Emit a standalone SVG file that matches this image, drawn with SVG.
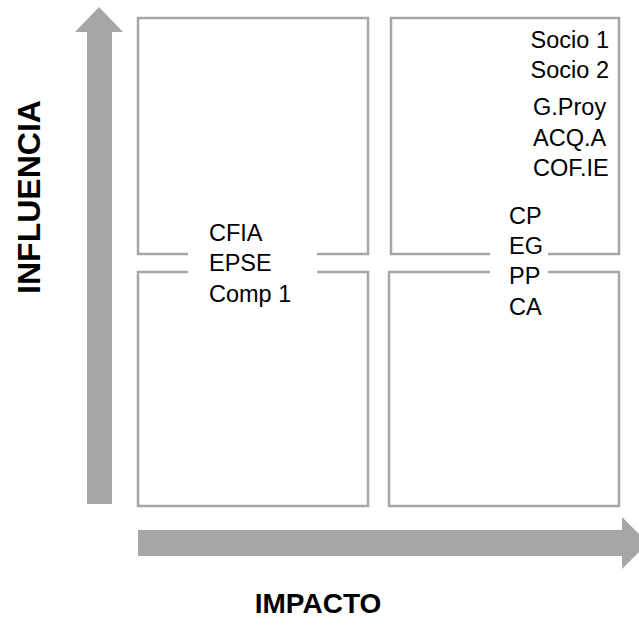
<svg xmlns="http://www.w3.org/2000/svg" width="639" height="639" viewBox="0 0 639 639">
  <style>
    .axis { fill: #a6a6a6; }
    .edge { fill: none; stroke: #a6a6a6; stroke-width: 2.5; }
    .lbl { font-family: "Liberation Sans", Arial, sans-serif; font-size: 23.5px; fill: #000; }
    .title { font-family: "Liberation Sans", Arial, sans-serif; font-weight: bold; fill: #000; }
  </style>
  <rect width="639" height="639" fill="#fff"/>

  <!-- axis arrows -->
  <g id="connectors">
    <polygon class="axis" points="99,7 123,32 112,32 112,504 87,504 87,32 75,32"/>
    <polygon class="axis" points="138,530 622,530 622,517 648,543 622,569 622,556 138,556"/>
  </g>

  <!-- quadrant: low impact / high influence -->
  <g id="q-top-left">
    <path class="edge" d="M188,254 H138 V18 H368 V254 H317"/>
  </g>
  <!-- quadrant: high impact / high influence -->
  <g id="q-top-right">
    <path class="edge" d="M490,254 H391 V18 H619 V254 H548"/>
    <text class="lbl" x="609" y="48" text-anchor="end">Socio 1</text>
    <text class="lbl" x="609" y="78" text-anchor="end">Socio 2</text>
    <text class="lbl" x="533" y="115">G.Proy</text>
    <text class="lbl" x="533" y="146">ACQ.A</text>
    <text class="lbl" x="533" y="176">COF.IE</text>
  </g>
  <!-- quadrant: low impact / low influence -->
  <g id="q-bottom-left">
    <path class="edge" d="M188,272 H138 V506 H368 V272 H317"/>
  </g>
  <!-- quadrant: high impact / low influence -->
  <g id="q-bottom-right">
    <path class="edge" d="M490,272 H389 V506 H619 V272 H548"/>
  </g>

  <!-- groups sitting on the quadrant borders -->
  <g id="group-left">
    <text class="lbl" x="209" y="241">CFIA</text>
    <text class="lbl" x="209" y="271">EPSE</text>
    <text class="lbl" x="209" y="302">Comp 1</text>
  </g>
  <g id="group-right">
    <text class="lbl" x="509" y="224">CP</text>
    <text class="lbl" x="509" y="254">EG</text>
    <text class="lbl" x="509" y="284">PP</text>
    <text class="lbl" x="509" y="315">CA</text>
  </g>

  <!-- axis titles -->
  <g id="axis-titles">
    <text class="title" font-size="32" transform="translate(40,197) rotate(-90)" text-anchor="middle">INFLUENCIA</text>
    <text class="title" font-size="28" x="318" y="613" text-anchor="middle">IMPACTO</text>
  </g>
</svg>
